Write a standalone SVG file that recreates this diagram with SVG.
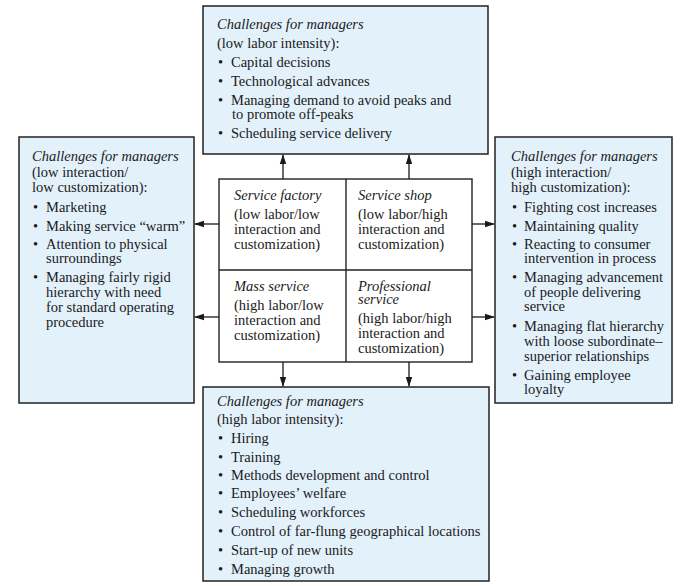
<svg xmlns="http://www.w3.org/2000/svg" width="680" height="586" viewBox="0 0 680 586">
<defs>
<marker id="ah" markerWidth="10" markerHeight="8" refX="9" refY="4" orient="auto" markerUnits="userSpaceOnUse">
<path d="M0,0.8 L10,4 L0,7.2 Z" fill="#1a1a1a"/>
</marker>
<style>
.box{fill:#e3f1fb;stroke:#222;stroke-width:1.5}
.mat{fill:#ffffff;stroke:#222;stroke-width:1.4}
text{font-family:"Liberation Serif","Times New Roman",serif;font-size:14.5px;fill:#1a1a1a}
.it{font-style:italic}
.conn line{stroke:#1a1a1a;stroke-width:1.3;marker-end:url(#ah)}
</style>
</defs>
<rect width="680" height="586" fill="#ffffff"/>

<g id="top">
<rect class="box" x="203" y="6" width="285" height="148"/>
<text class="it" x="217" y="29">Challenges for managers</text>
<text x="217" y="48">(low labor intensity):</text>
<text x="218" y="67">•</text><text x="231" y="67">Capital decisions</text>
<text x="218" y="86">•</text><text x="231" y="86">Technological advances</text>
<text x="218" y="105">•</text><text x="231" y="105">Managing demand to avoid peaks and</text>
<text x="232" y="119">to promote off-peaks</text>
<text x="218" y="138">•</text><text x="231" y="138">Scheduling service delivery</text>
</g>

<g id="left">
<rect class="box" x="19" y="137" width="175" height="266"/>
<text class="it" x="32" y="161">Challenges for managers</text>
<text x="32" y="177">(low interaction/</text>
<text x="32" y="192">low customization):</text>
<text x="33" y="212">•</text><text x="46" y="212">Marketing</text>
<text x="33" y="231">•</text><text x="46" y="231">Making service “warm”</text>
<text x="33" y="249">•</text><text x="46" y="249">Attention to physical</text>
<text x="46" y="263">surroundings</text>
<text x="33" y="282">•</text><text x="46" y="282">Managing fairly rigid</text>
<text x="46" y="297">hierarchy with need</text>
<text x="46" y="312">for standard operating</text>
<text x="46" y="327">procedure</text>
</g>

<g id="right">
<rect class="box" x="495" y="137" width="177" height="266"/>
<text class="it" x="511" y="161">Challenges for managers</text>
<text x="511" y="177">(high interaction/</text>
<text x="511" y="192">high customization):</text>
<text x="512" y="212">•</text><text x="524" y="212">Fighting cost increases</text>
<text x="512" y="231">•</text><text x="524" y="231">Maintaining quality</text>
<text x="512" y="249">•</text><text x="524" y="249">Reacting to consumer</text>
<text x="524" y="263">intervention in process</text>
<text x="512" y="282">•</text><text x="524" y="282">Managing advancement</text>
<text x="524" y="297">of people delivering</text>
<text x="524" y="311">service</text>
<text x="512" y="331">•</text><text x="524" y="331">Managing flat hierarchy</text>
<text x="524" y="346">with loose subordinate–</text>
<text x="524" y="361">superior relationships</text>
<text x="512" y="380">•</text><text x="524" y="380">Gaining employee</text>
<text x="524" y="394">loyalty</text>
</g>

<g id="bottom">
<rect class="box" x="203" y="387" width="286" height="194"/>
<text class="it" x="217" y="406">Challenges for managers</text>
<text x="217" y="424">(high labor intensity):</text>
<text x="218" y="443">•</text><text x="231" y="443">Hiring</text>
<text x="218" y="462">•</text><text x="231" y="462">Training</text>
<text x="218" y="480">•</text><text x="231" y="480">Methods development and control</text>
<text x="218" y="498">•</text><text x="231" y="498">Employees’ welfare</text>
<text x="218" y="517">•</text><text x="231" y="517">Scheduling workforces</text>
<text x="218" y="536">•</text><text x="231" y="536">Control of far-flung geographical locations</text>
<text x="218" y="555">•</text><text x="231" y="555">Start-up of new units</text>
<text x="218" y="574">•</text><text x="231" y="574">Managing growth</text>
</g>

<g id="matrix">
<rect class="mat" x="219" y="179" width="253" height="183"/>
<line x1="346" y1="179" x2="346" y2="362" stroke="#222" stroke-width="1.4"/>
<line x1="219" y1="270" x2="472" y2="270" stroke="#222" stroke-width="1.4"/>
</g>
<g id="service-factory">
<text class="it" x="234" y="200">Service factory</text>
<text x="234" y="219">(low labor/low</text>
<text x="234" y="234">interaction and</text>
<text x="234" y="249">customization)</text>
</g>
<g id="service-shop">
<text class="it" x="358" y="200">Service shop</text>
<text x="358" y="219">(low labor/high</text>
<text x="358" y="234">interaction and</text>
<text x="358" y="249">customization)</text>
</g>
<g id="mass-service">
<text class="it" x="234" y="291">Mass service</text>
<text x="234" y="310">(high labor/low</text>
<text x="234" y="325">interaction and</text>
<text x="234" y="340">customization)</text>
</g>
<g id="professional-service">
<text class="it" x="358" y="291">Professional</text>
<text class="it" x="358" y="304">service</text>
<text x="358" y="323">(high labor/high</text>
<text x="358" y="338">interaction and</text>
<text x="358" y="353">customization)</text>
</g>

<g class="conn" id="connectors">
<line x1="283" y1="179" x2="283" y2="155"/>
<line x1="409" y1="179" x2="409" y2="155"/>
<line x1="283" y1="362" x2="283" y2="386"/>
<line x1="409" y1="362" x2="409" y2="386"/>
<line x1="219" y1="224" x2="195" y2="224"/>
<line x1="219" y1="317" x2="195" y2="317"/>
<line x1="472" y1="224" x2="494" y2="224"/>
<line x1="472" y1="317" x2="494" y2="317"/>
</g>
</svg>
